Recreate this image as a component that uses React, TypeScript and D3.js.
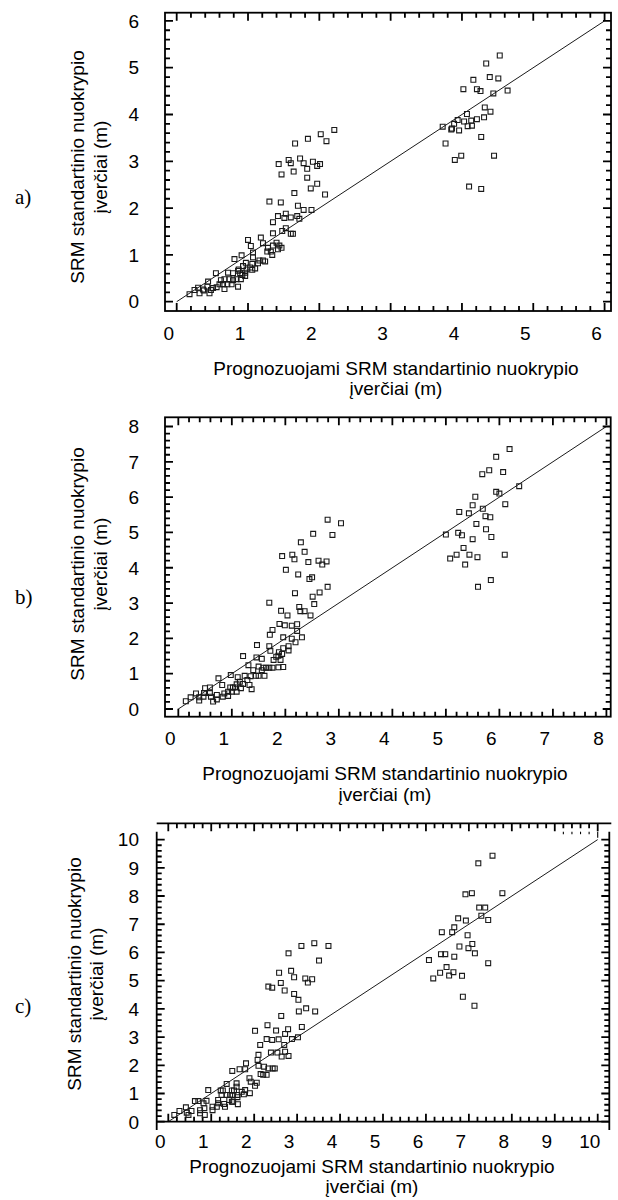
import React, { useEffect, useRef } from "react";
import * as d3 from "d3";

type Pt = [number, number]; // [predicted, observed]

// --- Data
// a)
const aPoints: Pt[] = [
  [2.21, 3.67], [2.02, 3.58], [1.84, 3.48], [2.1, 3.43], [1.66, 3.38], [1.73, 3.06], [1.57, 3.03],
  [1.43, 2.94], [1.6, 2.96], [1.78, 2.96], [1.91, 2.99], [2.01, 2.94], [1.97, 2.9], [1.83, 2.84],
  [1.64, 2.78], [1.47, 2.72], [1.83, 2.65], [1.97, 2.52], [1.88, 2.42], [1.65, 2.32], [2.08, 2.29],
  [1.3, 2.14], [1.46, 2.12], [1.7, 2.05], [1.78, 1.96], [1.89, 1.96], [1.53, 1.88], [1.42, 1.83],
  [1.69, 1.83], [1.51, 1.79], [1.6, 1.8], [1.72, 1.77], [1.35, 1.7],
  [1.53, 1.57], [1.48, 1.51], [1.6, 1.45], [1.63, 1.45], [1.35, 1.46], [1.18, 1.37], [1.0, 1.32],
  [1.21, 1.25], [1.4, 1.26], [1.35, 1.2], [1.44, 1.2], [1.04, 1.19], [1.28, 1.15], [1.42, 1.12],
  [1.27, 1.07], [1.32, 1.07], [1.47, 1.15], [1.34, 1.0], [1.07, 1.05], [0.91, 0.99], [1.07, 0.95],
  [0.81, 0.91], [0.97, 0.83], [1.16, 0.88], [1.21, 0.88], [1.24, 0.86], [1.14, 0.82], [1.06, 0.81],
  [1.03, 0.73], [0.98, 0.69], [0.93, 0.76], [1.06, 0.68], [1.1, 0.71], [0.87, 0.69], [0.86, 0.66],
  [0.89, 0.61], [0.92, 0.57], [0.96, 0.62], [0.79, 0.61], [0.55, 0.61], [0.72, 0.62], [0.74, 0.48],
  [0.67, 0.48], [0.62, 0.46], [0.79, 0.46], [0.84, 0.48], [0.9, 0.48], [0.96, 0.55], [0.6, 0.37],
  [0.65, 0.37], [0.71, 0.37], [0.77, 0.37], [0.86, 0.32], [0.56, 0.31], [0.51, 0.29], [0.44, 0.43],
  [0.43, 0.32], [0.37, 0.26], [0.3, 0.3], [0.32, 0.18], [0.25, 0.25], [0.18, 0.16], [0.46, 0.18],
  [0.38, 0.24], [0.48, 0.25], [0.67, 0.27],
  [4.53, 5.26], [4.34, 5.09], [4.39, 4.8], [4.51, 4.77], [4.16, 4.74], [4.02, 4.54], [4.21, 4.54],
  [4.26, 4.5], [4.64, 4.51], [4.44, 4.45], [4.32, 4.15], [4.4, 4.06], [4.07, 4.01], [4.31, 3.94],
  [3.94, 3.88], [4.03, 3.85], [4.13, 3.87], [4.21, 3.9], [3.89, 3.8], [3.73, 3.74], [3.86, 3.7],
  [3.85, 3.68], [4.08, 3.75], [4.14, 3.76], [3.96, 3.66], [4.27, 3.52], [3.77, 3.38], [3.99, 3.12],
  [3.9, 3.03], [4.45, 3.12], [4.1, 2.46], [4.27, 2.41],
];

// b)
const bPoints: Pt[] = [
  [2.79, 5.36], [3.04, 5.26], [2.52, 4.96], [2.88, 4.93], [2.29, 4.72], [2.36, 4.45], [1.94, 4.33],
  [2.13, 4.37], [2.17, 4.24], [2.43, 4.16], [2.62, 4.2], [2.69, 4.09], [2.77, 4.18], [2.01, 3.94],
  [2.24, 3.81], [2.45, 3.68], [2.5, 3.73], [2.79, 3.46], [2.18, 3.28], [2.51, 3.18], [2.64, 3.3],
  [1.7, 3.01], [2.54, 2.97], [2.26, 2.89], [1.92, 2.78], [2.28, 2.77], [2.36, 2.77], [2.04, 2.65],
  [2.47, 2.65], [1.89, 2.41], [1.99, 2.37], [2.12, 2.36], [2.22, 2.4], [1.76, 2.24], [1.71, 2.1],
  [2.22, 2.21], [1.96, 2.03], [2.12, 1.99], [2.31, 2.03], [2.19, 1.89], [2.06, 1.78], [2.06, 1.66],
  [1.96, 1.72], [1.47, 1.81],
  [1.21, 1.5], [1.7, 1.78], [1.72, 1.65], [1.88, 1.61], [1.83, 1.48], [1.87, 1.51], [1.94, 1.56],
  [1.78, 1.39], [1.91, 1.39], [1.56, 1.42], [1.46, 1.46], [1.31, 1.24], [1.5, 1.2], [1.4, 1.1],
  [1.59, 1.17], [1.64, 1.17], [1.7, 1.17], [1.76, 1.17], [1.87, 1.18], [1.96, 1.19], [1.45, 0.94],
  [1.5, 0.94], [1.61, 0.94], [1.35, 0.93], [1.24, 0.94], [1.56, 1.1], [0.98, 0.96], [0.75, 0.87],
  [1.11, 0.9], [1.15, 0.77], [1.09, 0.7], [1.21, 0.71], [1.29, 0.82], [1.33, 0.68], [1.37, 0.56],
  [1.17, 0.59], [0.97, 0.61], [1.02, 0.61], [1.06, 0.61], [0.93, 0.49], [1.0, 0.49], [1.09, 0.49],
  [0.86, 0.44], [0.93, 0.37], [0.82, 0.68], [0.59, 0.61], [0.5, 0.59], [0.48, 0.45], [0.59, 0.45],
  [0.72, 0.4], [0.72, 0.27], [0.65, 0.21], [0.61, 0.35], [0.39, 0.33], [0.39, 0.24], [0.47, 0.35],
  [0.33, 0.44], [0.23, 0.33], [0.14, 0.22], [0.83, 0.35],
  [6.19, 7.36], [5.94, 7.14], [5.81, 6.76], [5.68, 6.65], [6.07, 6.71], [6.37, 6.31], [5.94, 6.15],
  [6.0, 6.1], [5.55, 6.01], [5.5, 5.77], [6.11, 5.8], [5.25, 5.58], [5.43, 5.54], [5.69, 5.67],
  [5.74, 5.46], [5.83, 5.43], [5.57, 5.24], [5.75, 5.09], [5.0, 4.94], [5.23, 4.99], [5.3, 4.92],
  [5.5, 4.81], [5.85, 4.87], [5.33, 4.56], [5.08, 4.26], [5.2, 4.37], [5.44, 4.37], [5.59, 4.3],
  [6.1, 4.37], [5.36, 4.09], [5.84, 3.65], [5.6, 3.46],
];

// c)
const cPoints: Pt[] = [
  [3.4, 6.33], [3.1, 6.23], [3.73, 6.23], [2.8, 5.97], [3.51, 5.71], [2.86, 5.35], [2.58, 5.28],
  [2.93, 5.12], [3.19, 5.08], [3.35, 5.05], [3.25, 4.93], [2.62, 4.92], [2.33, 4.79], [2.42, 4.75],
  [2.71, 4.65], [2.93, 4.53], [3.03, 4.32], [3.21, 4.02], [3.04, 3.91], [3.42, 3.91], [2.63, 3.75],
  [2.31, 3.42], [2.02, 3.22], [2.51, 3.23], [2.79, 3.28], [3.11, 3.36], [2.72, 3.11], [2.29, 2.93],
  [2.42, 2.9], [2.57, 2.92], [2.88, 2.93], [3.02, 2.99], [2.7, 2.72], [2.14, 2.72], [2.39, 2.45],
  [2.54, 2.45], [2.64, 2.31], [2.72, 2.48], [2.8, 2.33], [2.1, 2.37], [2.08, 2.19], [1.81, 2.07],
  [1.49, 1.8], [1.66, 1.86], [1.79, 1.86],
  [2.1, 1.98], [2.23, 1.95], [2.33, 1.89], [2.15, 1.69], [2.21, 1.66], [2.29, 1.66], [2.43, 1.89],
  [2.48, 1.89], [1.89, 1.54], [1.92, 1.42], [2.06, 1.38], [2.02, 1.27], [1.9, 1.01], [1.79, 1.12],
  [1.71, 1.06], [1.76, 0.97], [1.59, 1.24], [1.61, 0.95], [1.61, 0.87], [1.62, 0.62], [1.48, 1.11],
  [1.53, 1.11], [1.36, 1.34], [1.22, 1.11], [1.27, 1.11], [1.24, 0.95], [1.36, 0.95], [1.44, 0.95],
  [1.5, 0.95], [1.42, 0.77], [1.48, 0.71], [1.51, 0.71], [1.32, 0.53], [1.3, 0.63], [1.16, 0.77],
  [1.16, 0.65], [1.13, 0.53], [1.03, 0.53], [1.03, 0.41], [0.93, 1.12], [0.89, 0.74], [0.82, 0.65],
  [0.84, 0.48], [0.74, 0.41], [0.74, 0.3], [0.85, 0.24], [0.62, 0.73], [0.7, 0.73], [0.54, 0.38],
  [0.43, 0.32], [0.47, 0.24], [0.41, 0.51], [0.26, 0.38], [0.14, 0.24], [1.59, 1.36],
  [7.55, 9.43], [7.22, 9.16], [6.92, 8.06], [7.07, 8.1], [7.78, 8.1], [7.24, 7.59], [7.38, 7.59],
  [7.29, 7.3], [7.45, 7.15], [6.75, 7.21], [6.93, 7.13], [6.66, 6.89], [6.61, 6.72], [6.37, 6.72],
  [6.97, 6.61], [6.78, 6.21], [7.08, 6.3], [6.99, 6.15], [7.14, 5.97], [6.35, 5.94], [6.45, 5.94],
  [6.66, 5.85], [6.07, 5.73], [7.45, 5.62], [6.48, 5.48], [6.33, 5.28], [6.64, 5.3], [6.17, 5.08],
  [6.54, 5.18], [6.84, 5.17], [6.86, 4.43], [7.13, 4.11],
];

const aTicks = [0, 1, 2, 3, 4, 5, 6];
const bTicks = [0, 1, 2, 3, 4, 5, 6, 7, 8];
const cTicks = [0, 1, 2, 3, 4, 5, 6, 7, 8, 9, 10];
// 1:1 reference line ends
const aLine = [0, 6];
const bLine = [0, 8];
const cLine = [0, 10];
// stray top-axis tick fragment in c)
const cStrayTicks = [9.2, 9.4, 9.6, 9.8, 10];

const xTitle = ["Prognozuojami SRM standartinio nuokrypio", "įverčiai (m)"];
const yTitle = ["SRM standartinio nuokrypio", "įverčiai (m)"];
const panelLabels = ["a)", "b)", "c)"];

// --- Layout
interface Panel {
  left: number;
  right: number;
  top: number;
  bottom: number;
  xDomain: [number, number];
  yDomain: [number, number];
  xLabelY: number;
  xTitleX: number;
  xTitleY: [number, number];
  yTitleX: [number, number];
  yTitleY: number;
  labelY: number;
  openFrame?: { topLine: number; lowEnd: number };
}

const panels: Panel[] = [
  {
    left: 165, right: 611, top: 12.7, bottom: 311,
    xDomain: [-0.164, 6.09], yDomain: [-0.199, 6.175],
    xLabelY: 340, xTitleX: 396, xTitleY: [375, 395], yTitleX: [84, 107], yTitleY: 167, labelY: 204,
  },
  {
    left: 165, right: 610.7, top: 417.3, bottom: 716.7,
    xDomain: [-0.249, 8.08], yDomain: [-0.218, 8.26],
    xLabelY: 745, xTitleX: 385, xTitleY: [780, 801], yTitleX: [84, 107], yTitleY: 564, labelY: 604,
  },
  {
    left: 156.7, right: 609.3, top: 831.7, bottom: 1121.7,
    xDomain: [-0.27, 10.27], yDomain: [0, 10.28],
    xLabelY: 1148, xTitleX: 372, xTitleY: [1173, 1193], yTitleX: [81, 103], yTitleY: 974, labelY: 1013,
    openFrame: { topLine: 823.3, lowEnd: 1130 },
  },
];

const SANS = "'Liberation Sans', Arial, sans-serif";
const SERIF = "'Liberation Serif', 'Times New Roman', serif";
const FONT = 19;
const MAJOR = 8;
const MINOR = 5;

function drawPanel(
  svg: d3.Selection<SVGSVGElement, unknown, null, undefined>,
  p: Panel,
  points: Pt[],
  ticks: number[],
  line: number[],
  label: string
) {
  const x = d3.scaleLinear().domain(p.xDomain).range([p.left, p.right]);
  const y = d3.scaleLinear().domain(p.yDomain).range([p.bottom, p.top]);
  const g = svg.append("g");

  const maxT = ticks[ticks.length - 1];
  const allTicks = d3
    .range(0, maxT * 5 + 1)
    .map((i) => ({ v: i / 5, len: i % 5 === 0 ? MAJOR : MINOR }));

  const topY = p.openFrame ? p.openFrame.topLine : p.top;

  // frame
  if (p.openFrame) {
    const f = p.openFrame;
    const segs = [
      [p.left, f.topLine, p.right + 2, f.topLine],
      [p.left, p.bottom, p.right, p.bottom],
      [p.left, p.top, p.left, f.lowEnd],
      [p.right, p.top, p.right, f.lowEnd],
    ];
    g.selectAll(".frame")
      .data(segs)
      .join("line")
      .attr("x1", (d) => d[0])
      .attr("y1", (d) => d[1])
      .attr("x2", (d) => d[2])
      .attr("y2", (d) => d[3])
      .attr("stroke", "#000")
      .attr("stroke-width", 1.8);
    // leftover tick fragment under the top line
    g.selectAll(".stray")
      .data(cStrayTicks)
      .join("line")
      .attr("x1", (d) => x(d))
      .attr("x2", (d) => x(d))
      .attr("y1", p.top)
      .attr("y2", (d) => p.top + (Number.isInteger(d) ? 6 : 2.5))
      .attr("stroke", "#000")
      .attr("stroke-width", 1.1);
  } else {
    g.append("rect")
      .attr("x", p.left)
      .attr("y", p.top)
      .attr("width", p.right - p.left)
      .attr("height", p.bottom - p.top)
      .attr("fill", "none")
      .attr("stroke", "#000")
      .attr("stroke-width", 1.8);
  }

  // inward ticks on all four sides, one path per side
  type Tick = { v: number; len: number };
  const sides = [
    (d: Tick, pa: d3.Path) => {
      pa.moveTo(x(d.v), p.bottom);
      pa.lineTo(x(d.v), p.bottom - d.len);
    },
    (d: Tick, pa: d3.Path) => {
      pa.moveTo(x(d.v), topY);
      pa.lineTo(x(d.v), topY + d.len);
    },
    (d: Tick, pa: d3.Path) => {
      pa.moveTo(p.left, y(d.v));
      pa.lineTo(p.left + d.len, y(d.v));
    },
    (d: Tick, pa: d3.Path) => {
      pa.moveTo(p.right, y(d.v));
      pa.lineTo(p.right - d.len, y(d.v));
    },
  ];
  sides.forEach((draw) => {
    const pa = d3.path();
    allTicks.forEach((d) => draw(d, pa));
    g.append("path")
      .attr("d", pa.toString())
      .attr("fill", "none")
      .attr("stroke", "#000")
      .attr("stroke-width", 1.8);
  });

  // tick labels
  g.selectAll(".xl")
    .data(ticks)
    .join("text")
    .attr("x", (d) => x(d) - 8)
    .attr("y", p.xLabelY)
    .attr("text-anchor", "middle")
    .style("font-family", SANS)
    .style("font-size", `${FONT}px`)
    .text((d) => d);
  g.selectAll(".yl")
    .data(ticks)
    .join("text")
    .attr("x", 139)
    .attr("y", (d) => y(d) + 6.8)
    .attr("text-anchor", "end")
    .style("font-family", SANS)
    .style("font-size", `${FONT}px`)
    .text((d) => d);

  // 1:1 line
  g.append("path")
    .datum(line)
    .attr("fill", "none")
    .attr("stroke", "#000")
    .attr("stroke-width", 0.9)
    .attr(
      "d",
      d3
        .line<number>()
        .x((d) => x(d))
        .y((d) => y(d))
    );

  // points
  g.selectAll(".pt")
    .data(points)
    .join("path")
    .attr("transform", (d) => `translate(${x(d[0])},${y(d[1])})`)
    .attr("d", d3.symbol(d3.symbolSquare, 24)())
    .attr("fill", "none")
    .attr("stroke", "#1a1a1a")
    .attr("stroke-width", 1.1);

  // axis titles
  xTitle.forEach((t, i) => {
    g.append("text")
      .attr("x", p.xTitleX)
      .attr("y", p.xTitleY[i])
      .attr("text-anchor", "middle")
      .style("font-family", SANS)
      .style("font-size", `${FONT}px`)
      .text(t);
  });
  yTitle.forEach((t, i) => {
    g.append("text")
      .attr("transform", `translate(${p.yTitleX[i]},${p.yTitleY}) rotate(-90)`)
      .attr("text-anchor", "middle")
      .style("font-family", SANS)
      .style("font-size", `${FONT}px`)
      .text(t);
  });

  // panel letter
  g.append("text")
    .attr("x", 15)
    .attr("y", p.labelY)
    .style("font-family", SERIF)
    .style("font-size", "21px")
    .text(label);
}

const App: React.FC = () => {
  const ref = useRef<SVGSVGElement | null>(null);

  useEffect(() => {
    if (!ref.current) return;
    const svg = d3.select(ref.current);
    svg.selectAll("*").remove();
    svg.attr("width", 618).attr("height", 1200);

    svg.append("rect").attr("width", 618).attr("height", 1200).attr("fill", "#fff");

    drawPanel(svg, panels[0], aPoints, aTicks, aLine, panelLabels[0]);
    drawPanel(svg, panels[1], bPoints, bTicks, bLine, panelLabels[1]);
    drawPanel(svg, panels[2], cPoints, cTicks, cLine, panelLabels[2]);

    return () => {
      svg.selectAll("*").remove();
    };
  }, []);

  return (
    <svg
      ref={ref}
      style={{ position: "absolute", left: 0, top: 0, display: "block" }}
    ></svg>
  );
};

export default App;
